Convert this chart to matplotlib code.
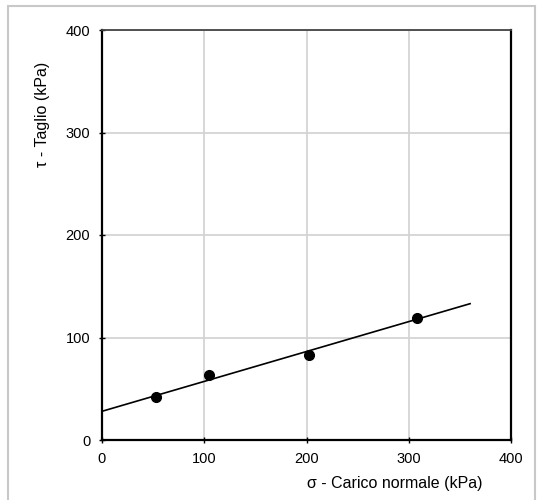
import matplotlib
matplotlib.use("Agg")
import matplotlib.pyplot as plt
from matplotlib.patches import Rectangle

# measured points (normal load vs shear)
sigma = [53, 105, 202, 308]
tau = [42, 63, 83, 119]

# fitted failure envelope, end points
fit_x = [0, 360]
fit_y = [28, 133]

ticks = [0, 100, 200, 300, 400]

plt.rcParams['font.family'] = ['Liberation Sans', 'DejaVu Sans']

fig = plt.figure(figsize=(5.37, 5.0), dpi=100)
ax = fig.add_axes([102/537, 60/500, 409/537, 410/500])

# light frame around the whole chart
fig.patches.append(Rectangle((8/537, -0.02), 527/537, 1.008, transform=fig.transFigure,
                             fill=False, edgecolor="#c8c8c8", lw=1.5))

ax.plot(fit_x, fit_y, color="black", lw=1.2, zorder=3)
ax.plot(sigma, tau, "o", color="black", ms=7, zorder=4)

ax.set_xlim(0, 400)
ax.set_ylim(0, 400)
ax.set_xticks(ticks)
ax.set_yticks(ticks)
ax.grid(True, color="#d4d4d4", lw=1.3)
ax.set_axisbelow(True)
ax.tick_params(direction="inout", length=5, width=1, labelsize=10.5, colors="black", pad=6)

for s in ax.spines.values():
    s.set_linewidth(1.6)
    s.set_color("black")
# top border is a bit lighter in the reference
ax.spines["top"].set_linewidth(1.3)
ax.spines["top"].set_color("#444444")

ax.set_xlabel("σ - Carico normale (kPa)", fontsize=11.5)
ax.set_ylabel("τ - Taglio (kPa)", fontsize=11.5)
ax.xaxis.set_label_coords(0.716, -0.088)
ax.yaxis.set_label_coords(-0.127, 0.795)

fig.savefig("out.png", dpi=100)
